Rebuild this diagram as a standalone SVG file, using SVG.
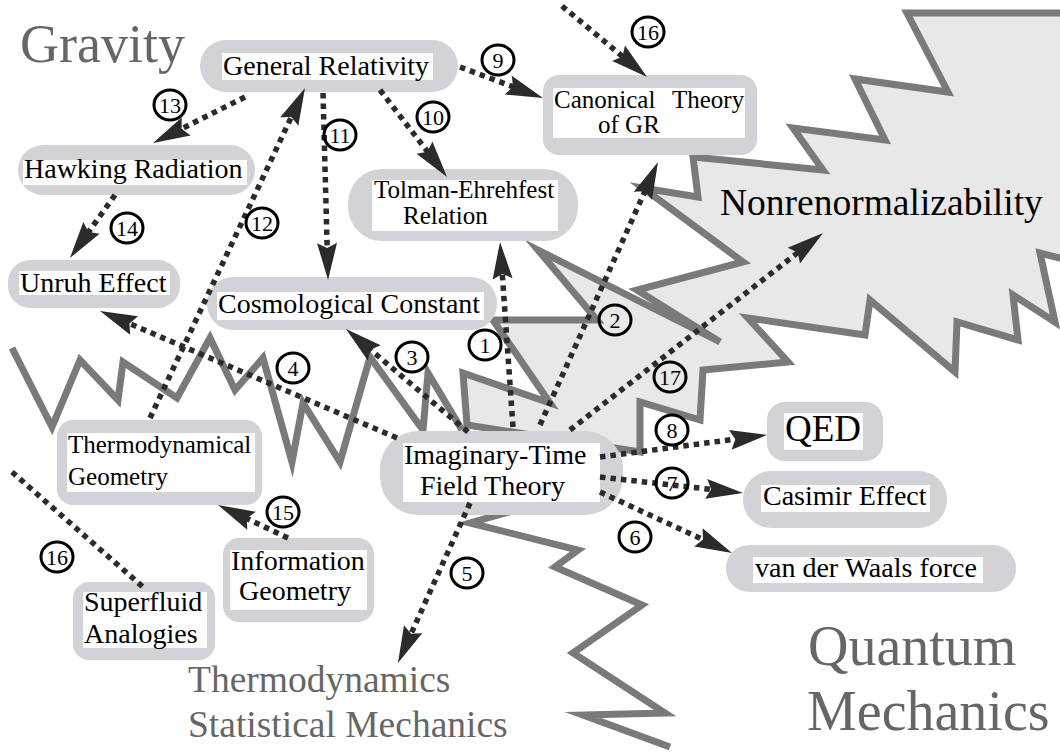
<svg xmlns="http://www.w3.org/2000/svg" width="1060" height="754" viewBox="0 0 1060 754">
<style>
.pill{fill:#d3d3d7}
.tb{fill:#fff}
.lbl{font-family:"Liberation Serif","Times New Roman",serif;fill:#000}
.big{font-family:"Liberation Serif","Times New Roman",serif;fill:#666}
.c{stroke:#2b2b2b;stroke-width:5.5;stroke-dasharray:5.5 5;fill:none}
.zz{fill:none;stroke:#7a7a7a;stroke-width:7;stroke-miterlimit:12}
.num ellipse{fill:none;stroke:#000;stroke-width:3}
.num text{font-family:"Liberation Serif","Times New Roman",serif;font-size:22px;text-anchor:middle;fill:#000}
</style>
<defs>
<marker id="ah" markerUnits="userSpaceOnUse" markerWidth="44" markerHeight="26" viewBox="-16 -13 44 26" refX="0" refY="0" orient="auto">
<path d="M24,0 L-13,-10 L-8,0 L-13,10 Z" fill="#2b2b2b"/>
</marker>
</defs>
<rect width="1060" height="754" fill="#fff"/>

<g id="backdrop">
<polygon class="zz" style="fill:#e8e8e8" points="907,13 1075,13 1075,262 1040,253 1055,322 1013,295 1018,340 957,322 955,372 870,300 865,335 748,318 788,362 703,370 700,420 640,402 640,452 467,425 463,373 550,403 493,320 597,320 538,250 720,342 637,290 743,262 643,188 698,197 693,157 823,170 793,128 885,140 855,79 948,92"/>
<polyline class="zz" points="12,348 52,427 80,360 118,400 123,362 177,398 210,338 235,390 263,358 292,462 303,403 340,462 370,357 423,430 428,373 462,430"/>
<polyline class="zz" points="615,482 470,523 578,550 555,567 642,605 573,653 665,713 583,715 670,747"/>
</g>

<g id="node-gr"><rect class="pill" x="200" y="40" width="258" height="52" rx="26"/><rect class="tb" x="222" y="53" width="211" height="27"/><text class="lbl" x="223" y="75" font-size="28">General Relativity</text></g>
<g id="node-canonical"><rect class="pill" x="543" y="75" width="214" height="80" rx="16"/><rect class="tb" x="553" y="88" width="192" height="50"/><text class="lbl" font-size="25"><tspan x="554" y="108">Canonical</tspan><tspan x="672" y="108">Theory</tspan><tspan x="598" y="133">of GR</tspan></text></g>
<g id="node-hawking"><rect class="pill" x="18" y="145" width="237" height="50" rx="25"/><rect class="tb" x="23" y="160" width="224" height="25"/><text class="lbl" x="24" y="178" font-size="28">Hawking Radiation</text></g>
<g id="node-tolman"><rect class="pill" x="348" y="169" width="230" height="72" rx="34"/><rect class="tb" x="372" y="180" width="186" height="51"/><text class="lbl" font-size="25"><tspan x="374" y="198">Tolman-Ehrehfest</tspan><tspan x="403" y="224">Relation</tspan></text></g>
<g id="node-unruh"><rect class="pill" x="8" y="260" width="172" height="48" rx="22"/><rect class="tb" x="19" y="271" width="151" height="24"/><text class="lbl" x="20" y="292" font-size="28">Unruh Effect</text></g>
<g id="node-cosmo"><rect class="pill" x="207" y="277" width="290" height="53" rx="26"/><rect class="tb" x="217" y="292" width="267" height="28"/><text class="lbl" x="218" y="313" font-size="28">Cosmological Constant</text></g>
<g id="node-thermogeo"><rect class="pill" x="57" y="420" width="205" height="85" rx="16"/><rect class="tb" x="67" y="433" width="188" height="59"/><text class="lbl" font-size="25"><tspan x="68" y="453">Thermodynamical</tspan><tspan x="68" y="485">Geometry</tspan></text></g>
<g id="node-imag"><rect class="pill" x="380" y="431" width="243" height="84" rx="38"/><rect class="tb" x="403" y="443" width="197" height="59"/><text class="lbl" font-size="28"><tspan x="404" y="464">Imaginary-Time</tspan><tspan x="420" y="495">Field Theory</tspan></text></g>
<g id="node-info"><rect class="pill" x="223" y="538" width="151" height="84" rx="16"/><rect class="tb" x="230" y="550" width="137" height="60"/><text class="lbl" font-size="28"><tspan x="231" y="570">Information</tspan><tspan x="239" y="600">Geometry</tspan></text></g>
<g id="node-superfluid"><rect class="pill" x="73" y="582" width="142" height="78" rx="16"/><rect class="tb" x="83" y="592" width="124" height="56"/><text class="lbl" font-size="28"><tspan x="84" y="611">Superfluid</tspan><tspan x="84" y="643">Analogies</tspan></text></g>
<g id="node-qed"><rect class="pill" x="767" y="402" width="116" height="59" rx="18"/><rect class="tb" x="784" y="413" width="79" height="37"/><text class="lbl" x="785" y="441" font-size="37">QED</text></g>
<g id="node-casimir"><rect class="pill" x="743" y="471" width="204" height="57" rx="28"/><rect class="tb" x="761" y="485" width="169" height="27"/><text class="lbl" x="763" y="505" font-size="28">Casimir Effect</text></g>
<g id="node-vdw"><rect class="pill" x="726" y="545" width="290" height="47" rx="23"/><rect class="tb" x="753" y="557" width="230" height="26"/><text class="lbl" x="755" y="577" font-size="28">van der Waals force</text></g>

<g id="connectors">
<line class="c" x1="245" y1="97" x2="174.5" y2="132.3" marker-end="url(#ah)"/>
<line class="c" x1="115" y1="195" x2="83.9" y2="238.5" marker-end="url(#ah)"/>
<line class="c" x1="150" y1="418" x2="294.8" y2="109.7" marker-end="url(#ah)"/>
<line class="c" x1="323" y1="93" x2="327.4" y2="256" marker-end="url(#ah)"/>
<line class="c" x1="380" y1="90" x2="432.4" y2="158" marker-end="url(#ah)"/>
<line class="c" x1="460" y1="67" x2="520.5" y2="89.6" marker-end="url(#ah)"/>
<line class="c" x1="562" y1="6" x2="628.6" y2="61.6" marker-end="url(#ah)"/>
<line class="c" x1="513" y1="427" x2="501.7" y2="265.9" marker-end="url(#ah)"/>
<line class="c" x1="540" y1="425" x2="648.2" y2="183.9" marker-end="url(#ah)"/>
<line class="c" x1="570" y1="430" x2="804.1" y2="247.7" marker-end="url(#ah)"/>
<line class="c" x1="468" y1="432" x2="364.3" y2="344.5" marker-end="url(#ah)"/>
<line class="c" x1="397" y1="438" x2="122.1" y2="320.4" marker-end="url(#ah)"/>
<line class="c" x1="600" y1="457" x2="743.2" y2="438.1" marker-end="url(#ah)"/>
<line class="c" x1="600" y1="477" x2="719.1" y2="490.3" marker-end="url(#ah)"/>
<line class="c" x1="600" y1="492" x2="710.2" y2="542.9" marker-end="url(#ah)"/>
<line class="c" x1="470" y1="503" x2="407.8" y2="641.1" marker-end="url(#ah)"/>
<line class="c" x1="288" y1="538" x2="239.7" y2="515.2" marker-end="url(#ah)"/>
<line class="c" x1="12" y1="472" x2="143" y2="587"/>
</g>

<g id="labels">
<g class="num"><ellipse cx="170" cy="105" rx="16" ry="15"/><text x="170" y="113">13</text></g>
<g class="num"><ellipse cx="127" cy="228" rx="16" ry="15"/><text x="127" y="236">14</text></g>
<g class="num"><ellipse cx="262" cy="223" rx="16" ry="15"/><text x="262" y="231">12</text></g>
<g class="num"><ellipse cx="340" cy="135" rx="16" ry="15"/><text x="340" y="143">11</text></g>
<g class="num"><ellipse cx="433" cy="117" rx="16" ry="15"/><text x="433" y="125">10</text></g>
<g class="num"><ellipse cx="498" cy="60" rx="16" ry="15"/><text x="498" y="68">9</text></g>
<g class="num"><ellipse cx="648" cy="32" rx="16" ry="15"/><text x="648" y="40">16</text></g>
<g class="num"><ellipse cx="615" cy="320" rx="16" ry="15"/><text x="615" y="328">2</text></g>
<g class="num"><ellipse cx="485" cy="345" rx="16" ry="15"/><text x="485" y="353">1</text></g>
<g class="num"><ellipse cx="412" cy="357" rx="16" ry="15"/><text x="412" y="365">3</text></g>
<g class="num"><ellipse cx="670" cy="377" rx="16" ry="15"/><text x="670" y="385">17</text></g>
<g class="num"><ellipse cx="293" cy="368" rx="16" ry="15"/><text x="293" y="376">4</text></g>
<g class="num"><ellipse cx="672" cy="430" rx="16" ry="15"/><text x="672" y="438">8</text></g>
<g class="num"><ellipse cx="672" cy="483" rx="16" ry="15"/><text x="672" y="491">7</text></g>
<g class="num"><ellipse cx="635" cy="537" rx="16" ry="15"/><text x="635" y="545">6</text></g>
<g class="num"><ellipse cx="467" cy="573" rx="16" ry="15"/><text x="467" y="581">5</text></g>
<g class="num"><ellipse cx="283" cy="512" rx="16" ry="15"/><text x="283" y="520">15</text></g>
<g class="num"><ellipse cx="57" cy="557" rx="16" ry="15"/><text x="57" y="565">16</text></g>

<text class="big" x="20" y="62" font-size="54">Gravity</text>
<text class="lbl" x="720" y="215" font-size="37.5">Nonrenormalizability</text>
<text class="big" font-size="56"><tspan x="808" y="665">Quantum</tspan><tspan x="807" y="730">Mechanics</tspan></text>
<text class="big" font-size="37.5"><tspan x="188" y="692">Thermodynamics</tspan><tspan x="188" y="737">Statistical Mechanics</tspan></text>
</g>
</svg>
